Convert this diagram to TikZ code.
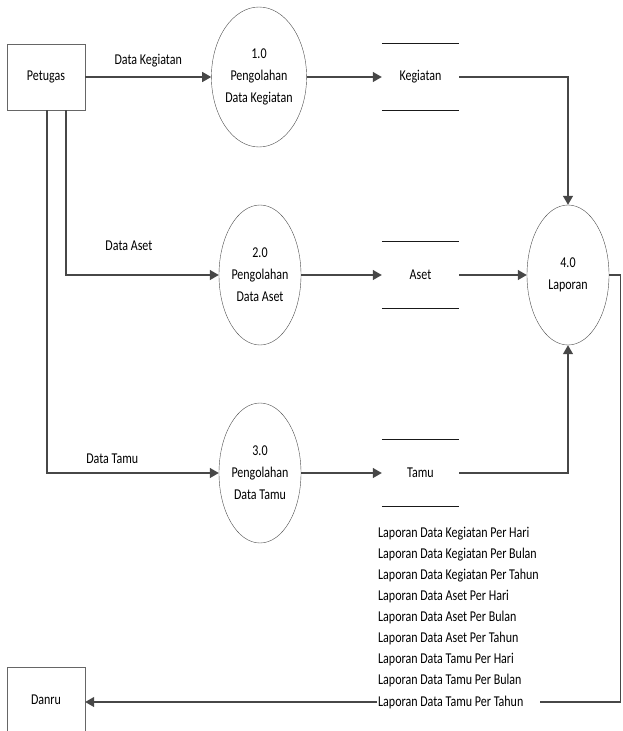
\documentclass[tikz,border=0pt]{standalone}
\usepackage{fontspec}
\setmainfont{Carlito}[FakeStretch=0.8]
\usetikzlibrary{arrows.meta,positioning,calc,shapes.geometric}

\begin{document}
\begin{tikzpicture}[x=1pt,y=-1pt,>={Triangle[length=9pt,width=10pt]},font=\fontsize{15}{22}\selectfont,
  ent/.style={draw=black!60,minimum width=78pt,minimum height=66pt,inner sep=0pt},
  proc/.style={draw=black!70,ellipse,minimum width=82pt,minimum height=140pt,align=center,inner sep=0pt},
  store/.style={minimum width=77pt,minimum height=66pt,inner sep=0pt},
  storeline/.style={draw=black!90,line width=1.2pt},
  flow/.style={->,draw=black!72,line width=1.2pt}]
  \useasboundingbox (0,0) rectangle (622,731);
  % entities
  \node[ent] (ptg) at (46,77) {Petugas};
  \node[ent] (dnr) at (46,700) {Danru};
  % processes
  \node[proc] (p1) at (259,77) {1.0\\Pengolahan\\Data Kegiatan};
  \node[proc] (p2) at (260,275) {2.0\\Pengolahan\\Data Aset};
  \node[proc] (p3) at (260,473) {3.0\\Pengolahan\\Data Tamu};
  \node[proc] (p4) at (568,275) {4.0\\Laporan};
  % data stores
  \node[store] (s1) at (420.5,77) {Kegiatan};
  \node[store] (s2) at (420.5,275) {Aset};
  \node[store] (s3) at (420.5,473) {Tamu};
  \foreach \s in {s1,s2,s3}
    \draw[storeline] (\s.north west) -- (\s.north east) (\s.south west) -- (\s.south east);
  % flows
  \draw[flow] (ptg) -- node[midway,above=6pt] {Data Kegiatan} (p1);
  \draw[flow] ([xshift=20pt]ptg.south) |- node[pos=0.706,above=20pt] {Data Aset} (p2);
  \draw[flow] ([xshift=1pt]ptg.south) |- node[pos=0.69,above=5pt] {Data Tamu} (p3);
  \draw[flow] (p1) -- (s1);
  \draw[flow] (p2) -- (s2);
  \draw[flow] (p3) -- (s3);
  \draw[flow] (s1) -| (p4);
  \draw[flow] (s2) -- (p4);
  \draw[flow] (s3) -| (p4);
  \coordinate (kanan) at (620.5,702);
  \draw[flow] (p4.east) -| (kanan) -- (kanan -| dnr.east);
  \node[fill=white,inner xsep=1pt,inner ysep=2pt,anchor=base west,align=left,
    font=\fontsize{15}{21.1}\selectfont] (lap) at (377,706)
    {Laporan Data Kegiatan Per Hari\\Laporan Data Kegiatan Per Bulan\\Laporan Data Kegiatan Per Tahun\\
     Laporan Data Aset Per Hari\\Laporan Data Aset Per Bulan\\Laporan Data Aset Per Tahun\\
     Laporan Data Tamu Per Hari\\Laporan Data Tamu Per Bulan\\Laporan Data Tamu Per Tahun};
\end{tikzpicture}
\end{document}
